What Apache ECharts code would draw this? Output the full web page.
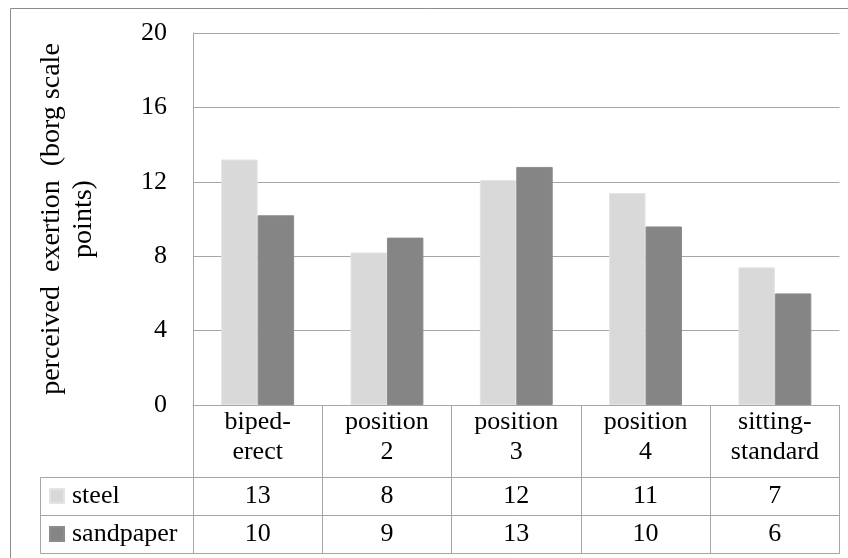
<!DOCTYPE html>
<html>
<head>
<meta charset="utf-8">
<script src="https://cdn.jsdelivr.net/npm/echarts@6/dist/echarts.min.js"></script>
<style>
  html, body { margin: 0; padding: 0; background: #fff; }
  #chart { width: 848px; height: 558px; }
</style>
</head>
<body>
<div id="chart"></div>
<script>
// Perceived exertion per working position, two floor surfaces
const categories = ['biped-\nerect', 'position\n2', 'position\n3', 'position\n4', 'sitting-\nstandard'];
const steel = [13.2, 8.2, 12.1, 11.4, 7.4];
const sandpaper = [10.2, 9.0, 12.8, 9.6, 6.0];
const yTicks = [0, 4, 8, 12, 16, 20];
const yTitle = 'perceived  exertion  (borg scale\npoints)';

const FONT = '"Liberation Serif", "Times New Roman", serif';
const GRID = { left: 193, top: 33, width: 646.5, height: 372 };
const ROW1 = 72, ROW2 = 110, ROW3 = 148;   // table row lines below the axis
const TABLE_LEFT = 40.5;
const LINE = '#a6a6a6';

const chart = echarts.init(document.getElementById('chart'), null, { renderer: 'canvas' });

function valueAxis(offset, values) {
  return {
    type: 'category',
    data: categories,
    position: 'bottom',
    offset: offset,
    axisLine: { show: true, lineStyle: { color: LINE, width: 1 } },
    axisTick: { show: false },
    axisLabel: {
      show: true,
      interval: 0,
      margin: 19,
      verticalAlign: 'middle',
      fontFamily: FONT,
      fontSize: 26,
      color: '#000',
      formatter: (v, i) => String(Math.round(values[i]))
    }
  };
}

const yBottom = GRID.top + GRID.height;

chart.setOption({
  animation: false,
  backgroundColor: '#fff',
  textStyle: { fontFamily: FONT },
  grid: Object.assign({ containLabel: false }, GRID),
  legend: {
    orient: 'vertical',
    left: 49,
    top: yBottom + ROW1,
    itemGap: 0,
    itemWidth: 14,
    itemHeight: 14,
    icon: 'rect',
    selectedMode: false,
    padding: 0,
    data: ['steel', 'sandpaper'],
    textStyle: { fontFamily: FONT, fontSize: 26, color: '#000', lineHeight: 38, padding: [0, 0, 0, 3] }
  },
  xAxis: [
    {
      type: 'category',
      data: categories,
      position: 'bottom',
      axisLine: { show: true, lineStyle: { color: LINE, width: 1 } },
      axisTick: { show: true, length: ROW3, interval: 0, lineStyle: { color: LINE, width: 1 } },
      axisLabel: {
        interval: 0,
        margin: 32,
        verticalAlign: 'middle',
        fontFamily: FONT,
        fontSize: 26,
        lineHeight: 30,
        color: '#000'
      }
    },
    valueAxis(ROW1, steel),
    valueAxis(ROW2, sandpaper),
    {
      type: 'category',
      data: categories,
      position: 'bottom',
      offset: ROW3,
      axisLine: { show: true, lineStyle: { color: LINE, width: 1 } },
      axisTick: { show: false },
      axisLabel: { show: false }
    }
  ],
  yAxis: {
    type: 'value',
    min: yTicks[0],
    max: yTicks[yTicks.length - 1],
    interval: yTicks[1] - yTicks[0],
    name: yTitle,
    nameLocation: 'middle',
    nameRotate: 90,
    nameGap: 93,
    nameTextStyle: { fontFamily: FONT, fontSize: 28, color: '#000', lineHeight: 32 },
    axisLine: { show: true, lineStyle: { color: LINE, width: 1 } },
    axisTick: { show: false },
    axisLabel: { margin: 26, fontFamily: FONT, fontSize: 26, color: '#000' },
    splitLine: { show: true, lineStyle: { color: LINE, width: 1 } }
  },
  series: [
    {
      name: 'steel',
      type: 'bar',
      data: steel,
      barWidth: '28.2%',
      barGap: '0%',
      itemStyle: { color: '#d9d9d9', borderColor: '#e4e4e4', borderWidth: 1 }
    },
    {
      name: 'sandpaper',
      type: 'bar',
      data: sandpaper,
      barWidth: '28.2%',
      barGap: '0%',
      itemStyle: { color: '#858585', borderColor: '#8c8c8c', borderWidth: 1 }
    }
  ],
  graphic: [
    // outer chart frame (top and left edges)
    {
      type: 'polyline', silent: true,
      shape: { points: [[10.5, 558], [10.5, 8.5], [848, 8.5]] },
      style: { stroke: '#8c8c8c', lineWidth: 1, fill: null }
    },
    // legend column of the data table
    {
      type: 'polyline', silent: true,
      shape: { points: [[GRID.left, yBottom + ROW1 + 0.5], [TABLE_LEFT, yBottom + ROW1 + 0.5], [TABLE_LEFT, yBottom + ROW3 + 0.5], [GRID.left, yBottom + ROW3 + 0.5]] },
      style: { stroke: LINE, lineWidth: 1, fill: null }
    },
    {
      type: 'line', silent: true,
      shape: { x1: TABLE_LEFT, y1: yBottom + ROW2 + 0.5, x2: GRID.left, y2: yBottom + ROW2 + 0.5 },
      style: { stroke: LINE, lineWidth: 1 }
    }
  ]
});
</script>
</body>
</html>
